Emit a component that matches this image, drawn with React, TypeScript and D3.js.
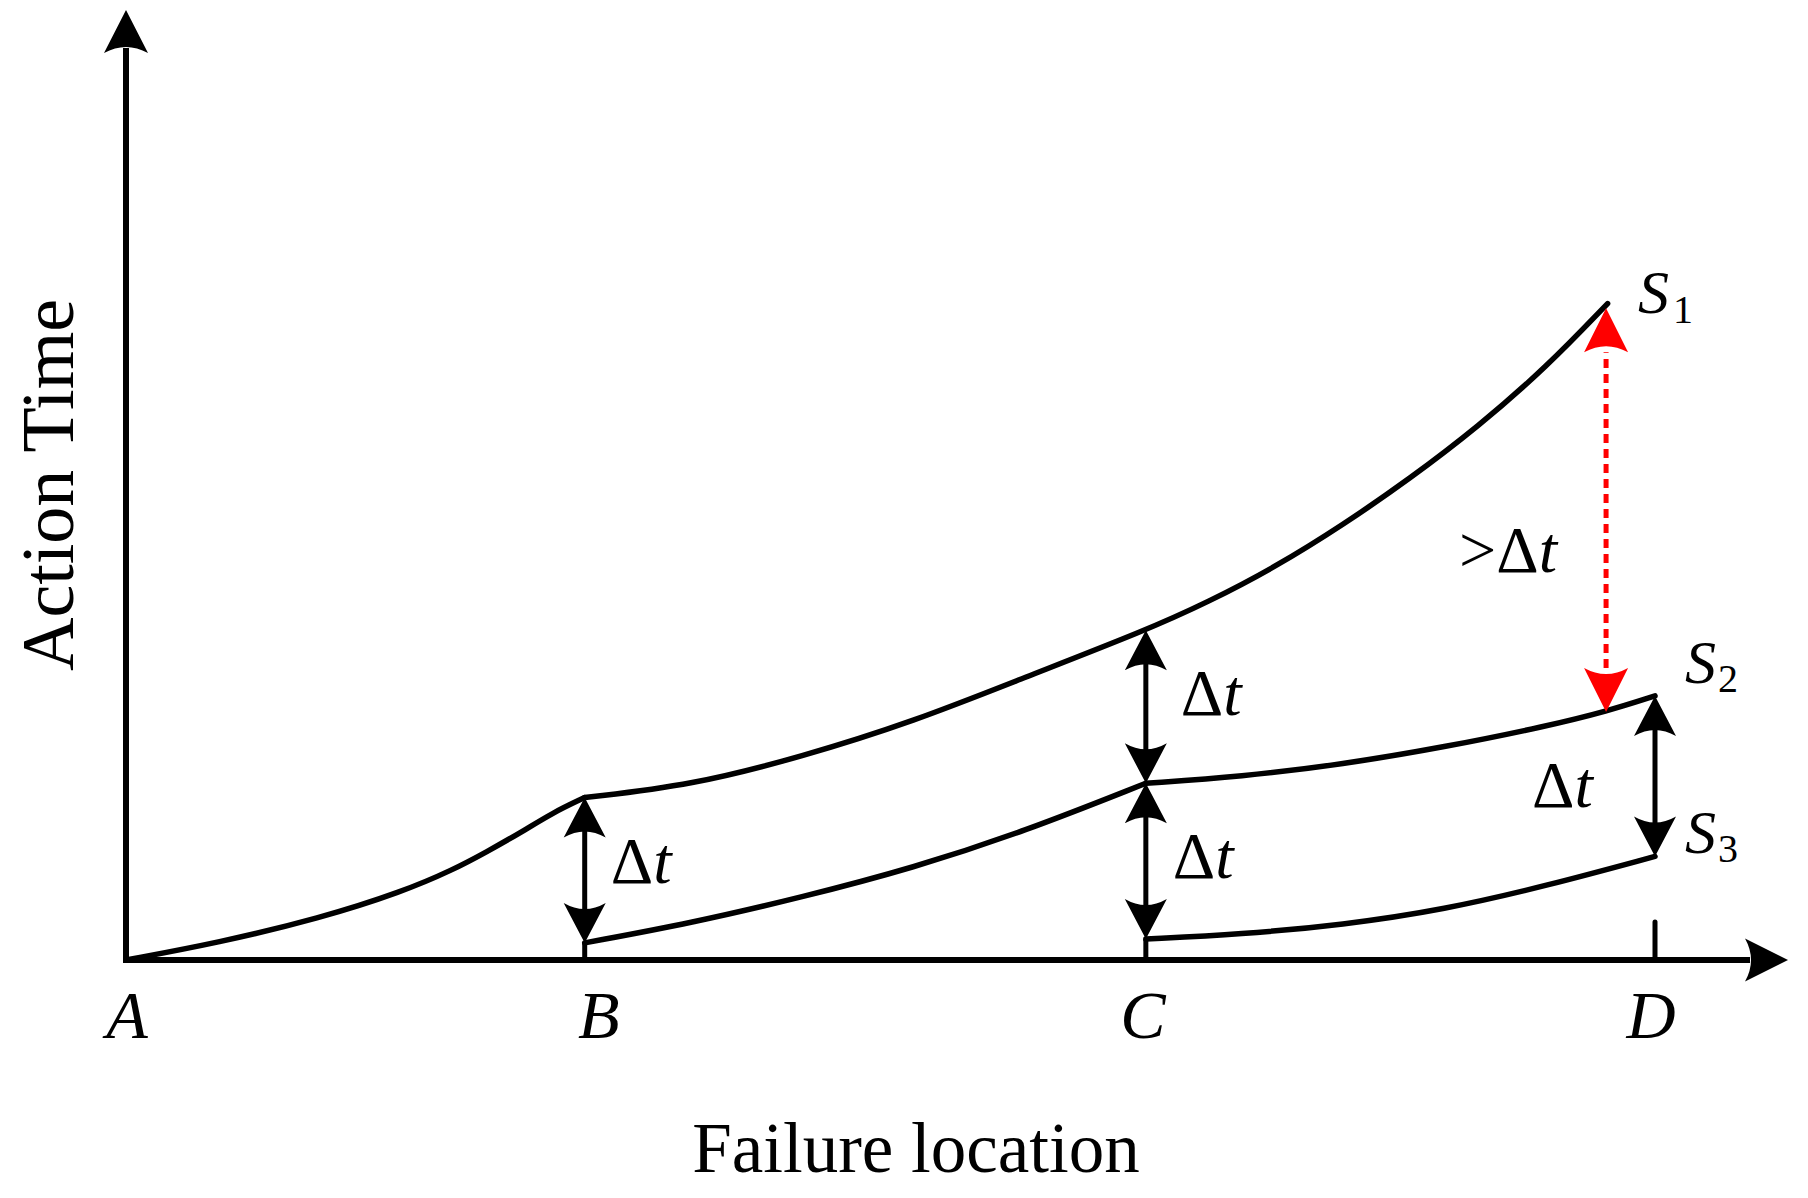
import React from 'react';
import * as d3 from 'd3';

// positions of the marked failure locations along the line
const pointLabels = ['A', 'B', 'C', 'D'];
const pointPos = [0, 3, 6.67, 10];

// S1 curve: A -> B, then B -> end
const s1Head = [[0, 0], [0.6, 1.8], [1.27, 4.4], [1.81, 7.2], [2.14, 9.5], [2.36, 11.4], [2.58, 13.4], [2.79, 15.5], [3, 17.1]];
const s1Tail = [[3, 17.1], [3.7, 18.4], [4.42, 21.4], [5.15, 25.1], [5.87, 29.7], [6.67, 34.7], [7.08, 37.7], [7.51, 41.3], [7.96, 45.8], [8.4, 50.7], [8.84, 56.1], [9.29, 62.4], [9.69, 69.1]];
// S2 curve: B -> C, then C -> D
const s2Head = [[3, 1.8], [3.7, 3.9], [4.42, 6.6], [5.15, 9.7], [5.87, 13.5], [6.67, 18.6]];
const s2Tail = [[6.67, 18.6], [7.29, 19.3], [7.96, 20.6], [8.62, 22.4], [9.29, 24.6], [9.69, 26.2], [10, 27.8]];
// S3 curve: C -> D
const s3 = [[6.67, 2.2], [7.29, 2.7], [7.96, 3.7], [8.62, 5.3], [9.29, 7.8], [10, 10.9]];

// the Δt double arrows (x, low end, high end)
const dtArrows = [[3, 1.8, 17.1], [6.67, 18.6, 34.7], [6.67, 2.2, 18.6], [10, 10.9, 27.8]];
// the red ">Δt" arrow
const bigArrow = [9.68, 26.1, 68.6];

const serif = '"Liberation Serif", "Times New Roman", serif';

function head(tx: number, ty: number, dx: number, dy: number, len = 42, wid = 42) {
  // arrow head, tip at (tx,ty), pointing along (dx,dy)
  const nx = -dy, ny = dx;
  const bx = tx - dx * len, by = ty - dy * len;
  const cx = tx - dx * (len - 12), cy = ty - dy * (len - 12);
  return `M${tx},${ty}L${bx + nx * wid / 2},${by + ny * wid / 2}Q${cx},${cy} ${bx - nx * wid / 2},${by - ny * wid / 2}Z`;
}

export default function App() {
  const x = d3.scaleLinear().domain([0, 10]).range([126, 1655]);
  const y = d3.scaleLinear().domain([0, 100]).range([960, 10]);

  const line = d3.line<number[]>()
    .x(d => x(d[0]))
    .y(d => y(d[1]))
    .curve(d3.curveBasis);

  const curves = [s1Head, s1Tail, s2Head, s2Tail, s3];
  const labelShift = [1, 14, -3, -4];
  const dtLabelPos = [[26, 883], [35, 715], [27, 878], [-123, 807]];

  const xEnd = x(10.87);

  return (
    <svg width={1808} height={1198} style={{ position: 'absolute', left: 0, top: 0 }} fontFamily={serif}>
      <rect width={1808} height={1198} fill="#fff" />

      {/* axes */}
      <line x1={x(0)} y1={y(0) + 3} x2={x(0)} y2={y(100) + 38} stroke="#000" strokeWidth={6} />
      <path d={head(x(0), y(100), 0, -1, 43, 44)} fill="#000" />
      <line x1={x(0) - 3} y1={y(0)} x2={xEnd - 38} y2={y(0)} stroke="#000" strokeWidth={6} />
      <path d={head(xEnd, y(0), 1, 0, 43, 43)} fill="#000" />

      {/* ticks at B, C, D */}
      <line x1={x(pointPos[1])} y1={y(0)} x2={x(pointPos[1])} y2={y(s2Head[0][1])} stroke="#000" strokeWidth={5} />
      <line x1={x(pointPos[2])} y1={y(0)} x2={x(pointPos[2])} y2={y(s3[0][1])} stroke="#000" strokeWidth={5} />
      <line x1={x(pointPos[3])} y1={y(0)} x2={x(pointPos[3])} y2={y(0) - 38} stroke="#000" strokeWidth={5} strokeLinecap="round" />

      {/* curves */}
      {curves.map((c, i) => (
        <path key={i} d={line(c) || ''} fill="none" stroke="#000" strokeWidth={5.5} strokeLinecap="round" strokeLinejoin="round" />
      ))}

      {/* Δt arrows */}
      {dtArrows.map((a, i) => {
        const ax = x(a[0]), lo = y(a[1]), hi = y(a[2]);
        return (
          <g key={i}>
            <line x1={ax} y1={lo - 20} x2={ax} y2={hi + 20} stroke="#000" strokeWidth={5} />
            <path d={head(ax, hi, 0, -1, 40, 42)} fill="#000" />
            <path d={head(ax, lo, 0, 1, 40, 42)} fill="#000" />
          </g>
        );
      })}

      {/* red arrow */}
      <line x1={x(bigArrow[0])} y1={y(bigArrow[1]) - 44} x2={x(bigArrow[0])} y2={y(bigArrow[2]) + 44}
        stroke="#ff0000" strokeWidth={5} strokeDasharray="9 6" />
      <path d={head(x(bigArrow[0]), y(bigArrow[2]), 0, -1, 44, 44)} fill="#ff0000" />
      <path d={head(x(bigArrow[0]), y(bigArrow[1]), 0, 1, 44, 44)} fill="#ff0000" />

      {/* Δt labels */}
      {dtArrows.map((a, i) => (
        <text key={i} x={x(a[0]) + dtLabelPos[i][0]} y={dtLabelPos[i][1]} fontSize={66}>
          Δ<tspan fontStyle="italic">t</tspan>
        </text>
      ))}
      <text x={1459} y={572} fontSize={66}>&gt;Δ<tspan fontStyle="italic">t</tspan></text>

      {/* series labels */}
      <text x={1638} y={313} fontSize={62}><tspan fontStyle="italic">S</tspan><tspan fontSize={40} dy={10} dx={4}>1</tspan></text>
      <text x={1685} y={683} fontSize={62}><tspan fontStyle="italic">S</tspan><tspan fontSize={40} dy={9} dx={2}>2</tspan></text>
      <text x={1685} y={853} fontSize={62}><tspan fontStyle="italic">S</tspan><tspan fontSize={40} dy={9} dx={2}>3</tspan></text>

      {/* location labels */}
      {pointLabels.map((l, i) => (
        <text key={l} x={x(pointPos[i]) + labelShift[i]} y={1038} fontSize={68} fontStyle="italic" textAnchor="middle">{l}</text>
      ))}

      {/* axis titles */}
      <text x={916} y={1172} fontSize={71} textAnchor="middle">Failure location</text>
      <text transform={`translate(73,485) rotate(-90)`} fontSize={74} textAnchor="middle">Action Time</text>
    </svg>
  );
}
